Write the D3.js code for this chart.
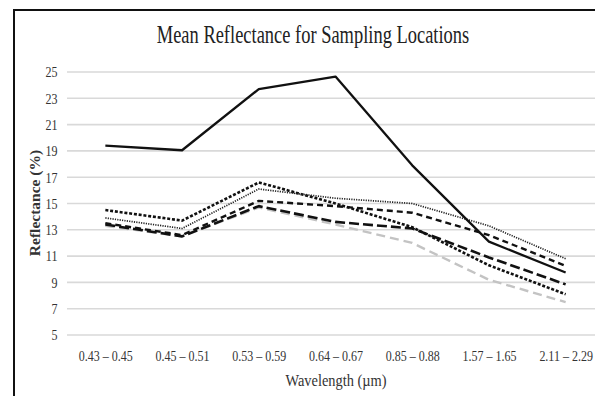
<!DOCTYPE html>
<html>
<head>
<meta charset="utf-8">
<script src="https://cdn.jsdelivr.net/npm/d3@7"></script>
<style>
  body { margin: 0; background: #fff; }
  svg { display: block; }
</style>
</head>
<body>
<script>
const wavelengths = ['0.43 \u2013 0.45', '0.45 \u2013 0.51', '0.53 \u2013 0.59', '0.64 \u2013 0.67', '0.85 \u2013 0.88', '1.57 \u2013 1.65', '2.11 \u2013 2.29']
const yTicks = [5, 7, 9, 11, 13, 15, 17, 19, 21, 23, 25]

const solid = [19.4, 19.05, 23.7, 24.65, 17.9, 12.1, 9.75]
const roundDot = [13.9, 13.1, 16.1, 15.4, 15.0, 13.3, 10.8]
const squareDot = [14.5, 13.7, 16.6, 15.0, 13.2, 10.3, 8.1]
const dash = [13.5, 12.6, 15.2, 14.8, 14.3, 12.6, 10.25]
const longDash = [13.4, 12.5, 14.8, 13.6, 13.1, 10.9, 8.85]
const greyDash = [13.3, 12.5, 14.7, 13.4, 12.0, 9.2, 7.5]

const series = [
  { values: greyDash, color: '#c3c3c3', width: 2.4, dash: '9,5' },
  { values: longDash, color: '#111', width: 2.6, dash: '10,4' },
  { values: dash, color: '#111', width: 2.4, dash: '6,4' },
  { values: squareDot, color: '#111', width: 2.6, dash: '3,1.8' },
  { values: roundDot, color: '#222', width: 1.7, dash: '1.2,1.2' },
  { values: solid, color: '#111', width: 2.3, dash: null }
]

const w = 595, h = 396
const serif = '"Liberation Serif", "DejaVu Serif", serif'

const svg = d3.select('body').append('svg')
  .attr('width', w)
  .attr('height', h)
  .style('font-family', serif)

const x = d3.scalePoint()
  .domain(wavelengths)
  .range([67, 604])
  .padding(0.5)

const y = d3.scaleLinear()
  .domain([5, 25])
  .range([335, 72])

// chart frame (cropped on right and bottom)
svg.append('path')
  .attr('d', `M${w + 5},10 H14 V${h + 5}`)
  .attr('fill', 'none')
  .attr('stroke', '#111')
  .attr('stroke-width', 2)

// text in the reference is tall and narrow, so squeeze it horizontally
svg.append('text')
  .attr('transform', 'translate(313,43) scale(0.71,1)')
  .attr('text-anchor', 'middle')
  .style('font-size', '26px')
  .attr('fill', '#222')
  .text('Mean Reflectance for Sampling Locations')

// gridlines
svg.append('g')
  .selectAll('line')
  .data(yTicks)
  .join('line')
    .attr('x1', 67)
    .attr('x2', w)
    .attr('y1', d => y(d))
    .attr('y2', d => y(d))
    .attr('stroke', '#d9d9d9')
    .attr('stroke-width', 1.6)

const yAxis = svg.append('g')
  .attr('transform', 'translate(59,0)')
  .call(d3.axisLeft(y).tickValues(yTicks).tickSize(0).tickPadding(2))
yAxis.select('.domain').remove()
yAxis.selectAll('text')
  .style('font-family', serif)
  .style('font-size', '15px')
  .attr('transform', 'scale(0.8,1)')
  .attr('fill', '#333')

const xAxis = svg.append('g')
  .attr('transform', 'translate(0,347)')
  .call(d3.axisBottom(x).tickSize(0).tickPadding(3))
xAxis.select('.domain').remove()
xAxis.selectAll('text')
  .style('font-family', serif)
  .style('font-size', '15px')
  .attr('transform', 'scale(0.8,1)')
  .attr('fill', '#333')

svg.append('text')
  .attr('transform', 'translate(40,203) rotate(-90)')
  .attr('text-anchor', 'middle')
  .style('font-size', '15.5px')
  .style('font-weight', 'bold')
  .attr('fill', '#333')
  .text('Reflectance (%)')

svg.append('text')
  .attr('transform', 'translate(336,386) scale(0.9,1)')
  .attr('text-anchor', 'middle')
  .style('font-size', '16px')
  .attr('fill', '#333')
  .text('Wavelength (\u00b5m)')

const line = d3.line()
  .x((d, i) => x(wavelengths[i]))
  .y(d => y(d))

svg.append('g')
  .selectAll('path')
  .data(series)
  .join('path')
    .attr('d', d => line(d.values))
    .attr('fill', 'none')
    .attr('stroke', d => d.color)
    .attr('stroke-width', d => d.width)
    .attr('stroke-dasharray', d => d.dash)
    .attr('stroke-linejoin', 'round')
</script>
</body>
</html>
